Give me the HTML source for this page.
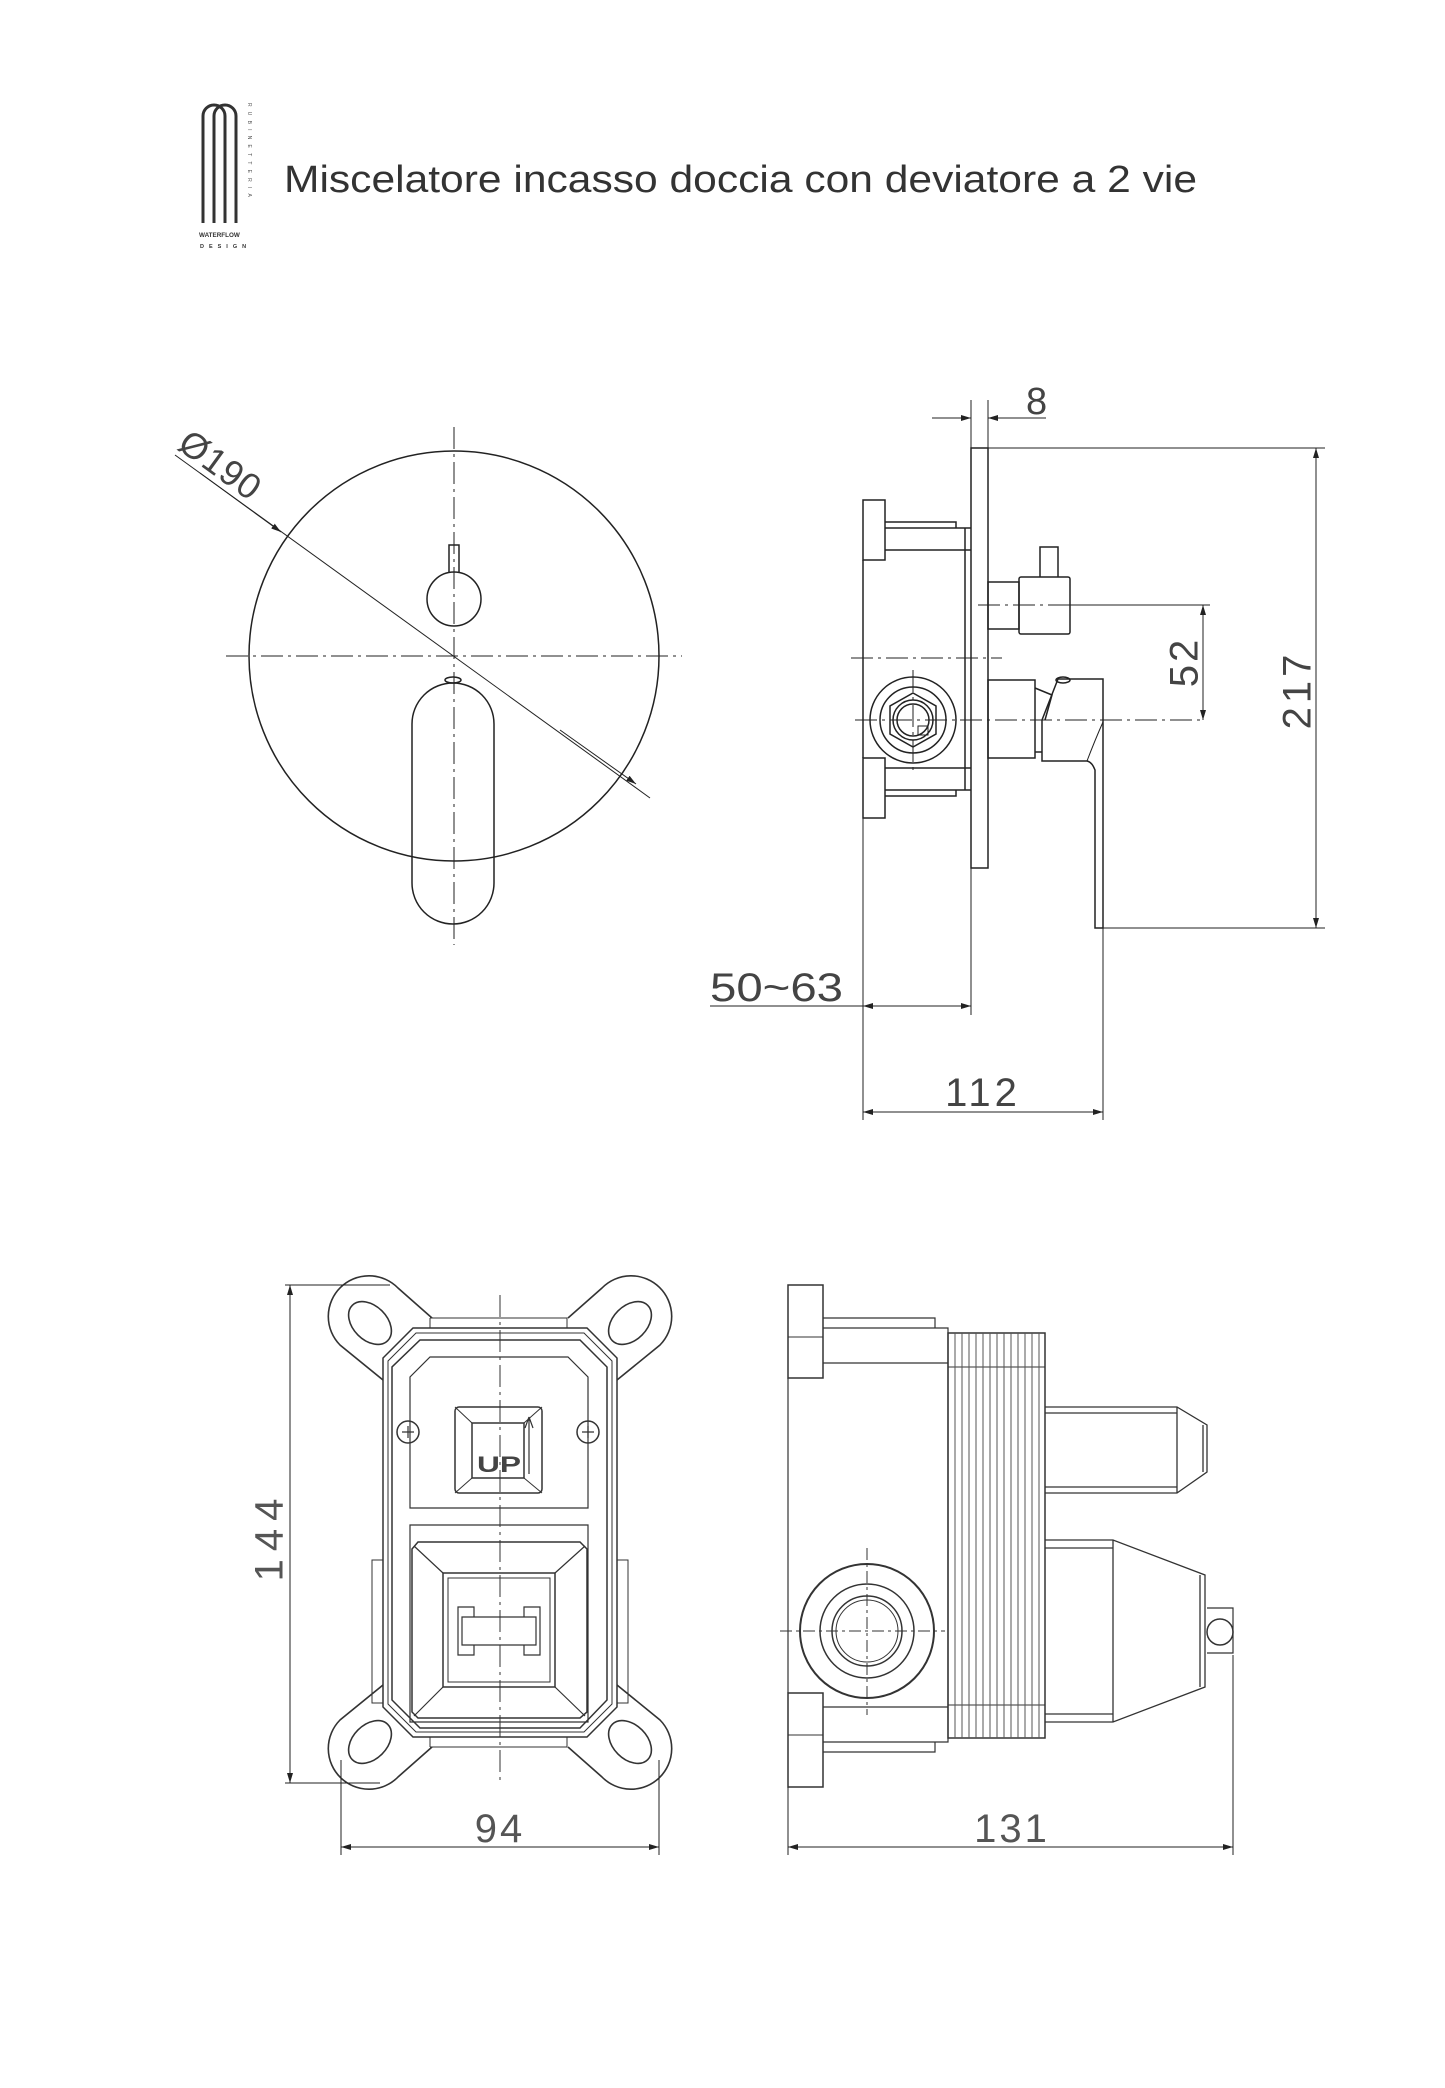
<!DOCTYPE html>
<html><head><meta charset="utf-8"><style>
html,body{margin:0;padding:0;background:#fff;}
svg{display:block;}
text{font-family:"Liberation Sans",sans-serif;}
</style></head><body>
<svg width="1445" height="2088" viewBox="0 0 1445 2088" xmlns="http://www.w3.org/2000/svg">
<defs>
<marker id="ar" viewBox="0 0 10 6" refX="10" refY="3" markerWidth="10" markerHeight="6" orient="auto-start-reverse" markerUnits="userSpaceOnUse"><path d="M0,0 L10,3 L0,6 z" fill="#222"/></marker>
<g id="ear">
<path d="M383 1380 L340 1345 A40 40 0 1 1 398 1288 L432 1318" fill="none" stroke="#333" stroke-width="1.6"/>
<ellipse cx="370" cy="1323" rx="17" ry="25" transform="rotate(-45 370 1323)" fill="none" stroke="#333" stroke-width="1.6"/>
</g>
</defs>
<rect width="1445" height="2088" fill="#fff"/>

<!-- logo -->
<g fill="none" stroke="#333" stroke-width="3">
<path d="M203 223 V116 A11 11 0 0 1 225 116 V223"/>
<path d="M214 223 V116 A11 11 0 0 1 236 116 V223"/>
</g>
<text x="248" y="103" font-size="5" fill="#555" transform="rotate(90 248 103)" letter-spacing="5.2">RUBINETTERIA</text>
<text x="199" y="237" font-size="6.3" font-weight="bold" fill="#333">WATERFLOW</text>
<text x="200" y="248" font-size="5.5" font-weight="bold" fill="#333" letter-spacing="5">DESIGN</text>
<text x="284" y="192" font-size="38" fill="#333" textLength="913" lengthAdjust="spacingAndGlyphs">Miscelatore incasso doccia con deviatore a 2 vie</text>

<g fill="none" stroke="#222" stroke-width="1.5">
<!-- top front view -->
<circle cx="454" cy="656" r="205"/>
<path d="M454 427 V945 M226 656 H682" stroke-dasharray="22 5 3 5" stroke-width="1"/>
<circle cx="454" cy="599" r="27"/>
<path d="M449 572 V545 H459 V572"/>
<rect x="412" y="683" width="82" height="241" rx="41"/>
<ellipse cx="453" cy="680" rx="8" ry="3"/>
<line x1="175" y1="455" x2="650" y2="798" stroke-width="1"/>
<line x1="200" y1="473" x2="281" y2="532" marker-end="url(#ar)" stroke-width="1"/>
<line x1="560" y1="730" x2="636" y2="784" marker-end="url(#ar)" stroke-width="1"/>

<!-- top side view -->
<rect x="971" y="448" width="17" height="420"/>
<rect x="863" y="500" width="22" height="60"/>
<rect x="863" y="758" width="22" height="60"/>
<path d="M863 560 V758 M885 528 H965 V790 H885 M885 522 H956 V528 M885 796 H956 V790 M885 550 H965 M885 768 H965 M965 528 H971 M965 550 H971 M965 768 H971 M965 790 H971"/>
<circle cx="913" cy="720" r="43"/>
<circle cx="913" cy="720" r="33"/>
<polygon points="913,693 936,706 936,734 913,747 890,734 890,706"/>
<circle cx="913" cy="720" r="20"/>
<circle cx="913" cy="720" r="16"/>
<path d="M918 726 H928 V735 H918 Z" stroke-width="1"/>
<path d="M855 720 H1204 M851 658 H1002 M978 605 H1210 M913 670 V770" stroke-dasharray="22 5 3 5" stroke-width="1"/>
<rect x="988" y="582" width="31" height="47"/>
<rect x="1019" y="577" width="51" height="57" rx="2"/>
<path d="M1040 577 V547 H1058 V577"/>
<rect x="988" y="680" width="47" height="78"/>
<path d="M1035 688 L1052 695 L1045 720 M1035 752 H1042"/>
<path d="M1042 761 V720 L1058 679 H1103 V928 H1095 V770 Q1092 762 1087 761 Z"/>
<path d="M1087 761 Q1095 740 1103 722" stroke-width="1"/>
<ellipse cx="1063" cy="680" rx="7" ry="3"/>
</g>

<!-- top dimensions -->
<g fill="none" stroke="#222" stroke-width="1">
<path d="M971 400 V448 M988 400 V448"/>
<line x1="932" y1="418" x2="971" y2="418" marker-end="url(#ar)"/>
<line x1="1046" y1="418" x2="988" y2="418" marker-end="url(#ar)"/>
<path d="M988 448 H1325 M1103 928 H1325 M1070 605 H1210"/>
<line x1="1316" y1="448" x2="1316" y2="928" marker-start="url(#ar)" marker-end="url(#ar)"/>
<line x1="1203" y1="605" x2="1203" y2="720" marker-start="url(#ar)" marker-end="url(#ar)"/>
<path d="M863 818 V1120 M971 868 V1015 M1103 928 V1120"/>
<line x1="710" y1="1006" x2="863" y2="1006"/>
<line x1="863" y1="1006" x2="971" y2="1006" marker-start="url(#ar)" marker-end="url(#ar)"/>
<line x1="863" y1="1112" x2="1103" y2="1112" marker-start="url(#ar)" marker-end="url(#ar)"/>
</g>
<g fill="#444" font-size="40">
<text x="1026" y="414" font-size="38">8</text>
<text x="1300" y="690" text-anchor="middle" transform="rotate(-90 1300 690)" dominant-baseline="middle" letter-spacing="4">217</text>
<text x="1187" y="662" text-anchor="middle" transform="rotate(-90 1187 662)" dominant-baseline="middle" letter-spacing="3">52</text>
<text x="710" y="1001" textLength="133" lengthAdjust="spacingAndGlyphs">50~63</text>
<text x="983" y="1106" text-anchor="middle" letter-spacing="4">112</text>
<text x="176" y="448" font-size="36" transform="rotate(36 176 448)" letter-spacing="1">Ø190</text>
</g>

<!-- bottom front view -->
<g fill="none" stroke="#333" stroke-width="1.5">
<use href="#ear"/>
<use href="#ear" transform="translate(1000 0) scale(-1 1)"/>
<use href="#ear" transform="translate(0 3065) scale(1 -1)"/>
<use href="#ear" transform="translate(1000 3065) scale(-1 -1)"/>
<path d="M413 1328 H587 L617 1358 V1707 L587 1737 H413 L383 1707 V1358 Z"/>
<path d="M416 1333 H584 L612 1361 V1704 L584 1732 H416 L388 1704 V1361 Z" stroke-width="1"/>
<path d="M420 1340 H580 L607 1367 V1700 L580 1728 H420 L392 1700 V1367 Z"/>
<path d="M430 1318 H567 V1328 M430 1318 V1328 M430 1747 H567 V1737 M430 1747 V1737" stroke-width="1"/>
<path d="M383 1560 H372 V1703 H383 M617 1560 H628 V1703 H617" stroke-width="1"/>
<path d="M430 1357 H568 L588 1377 V1508 H410 V1377 Z" stroke-width="1.2"/>
<rect x="455" y="1407" width="87" height="86" rx="4"/>
<rect x="472" y="1423" width="52" height="55"/>
<path d="M455 1407 L472 1423 M542 1407 L524 1423 M455 1493 L472 1478 M542 1493 L524 1478" stroke-width="1"/>
<circle cx="408" cy="1432" r="11"/>
<circle cx="588" cy="1432" r="11"/>
<path d="M402 1432 H414 M408 1426 V1438 M582 1432 H594 M588 1426 V1438" stroke-width="1.2"/>
<path d="M410 1525 H588 V1722 H410 Z" stroke-width="1.2"/>
<path d="M418 1542 H580 L587 1549 V1712 L580 1718 H418 L412 1712 V1549 Z"/>
<rect x="443" y="1573" width="112" height="114"/>
<rect x="448" y="1578" width="102" height="104" stroke-width="1"/>
<path d="M414 1546 L443 1573 M585 1546 L555 1573 M414 1716 L443 1687 M585 1716 L555 1687" stroke-width="1.2"/>
<path d="M458 1607 H474 V1617 H462 V1645 H474 V1655 H458 Z M540 1607 H524 V1617 H536 V1645 H524 V1655 H540 Z M474 1617 H524 M474 1645 H524" stroke-width="1.2"/>
<path d="M500 1295 V1780" stroke-dasharray="22 5 3 5" stroke-width="1"/>
<path d="M529 1417 V1474 M529 1417 L525 1428 M529 1417 L533 1428" stroke-width="1.2"/>
</g>
<text x="477" y="1472" font-size="22" font-weight="bold" fill="#444" textLength="44" lengthAdjust="spacingAndGlyphs">UP</text>

<!-- bottom side view -->
<g fill="none" stroke="#333" stroke-width="1.5">
<rect x="788" y="1285" width="35" height="93"/>
<rect x="788" y="1693" width="35" height="94"/>
<path d="M788 1337 H823 M788 1735 H823" stroke-width="1"/>
<path d="M788 1378 V1693 M823 1318 H935 V1328 M823 1328 H948 V1742 H823 M823 1363 H948 M823 1707 H948 M823 1752 H935 V1742" stroke-width="1.2"/>
<rect x="948" y="1333" width="97" height="405"/>
<path d="M948 1367 H1045 M948 1705 H1045" stroke-width="1"/>
<path d="M955 1333V1738M962 1333V1738M969 1333V1738M976 1333V1738M983 1333V1738M990 1333V1738M997 1333V1738M1004 1333V1738M1011 1333V1738M1018 1333V1738M1025 1333V1738M1032 1333V1738M1039 1333V1738" stroke-width="1" stroke="#555"/>
<path d="M1045 1407 H1177 L1207 1425 V1472 L1177 1493 H1045 M1045 1413 H1177 M1045 1487 H1177 M1177 1407 V1493 M1203 1425 V1472" stroke-width="1.3"/>
<path d="M1045 1540 H1113 L1205 1575 V1687 L1113 1722 H1045 M1045 1548 H1113 M1045 1714 H1113 M1113 1540 V1722 M1200 1575 V1687" stroke-width="1.3"/>
<path d="M1207 1608 H1233 V1653 H1207" stroke-width="1.2"/>
<circle cx="1220" cy="1632" r="13"/>
<circle cx="867" cy="1631" r="67" stroke-width="2"/>
<circle cx="867" cy="1631" r="47"/>
<circle cx="867" cy="1631" r="35"/>
<circle cx="867" cy="1631" r="31" stroke-width="1"/>
<path d="M780 1631 H945 M867 1548 V1715" stroke-dasharray="12 4 3 4" stroke-width="1"/>
</g>

<!-- bottom dimensions -->
<g fill="none" stroke="#222" stroke-width="1">
<path d="M285 1285 H390 M285 1783 H380"/>
<line x1="290" y1="1285" x2="290" y2="1783" marker-start="url(#ar)" marker-end="url(#ar)"/>
<path d="M341 1760 V1855 M659 1760 V1855 M788 1787 V1855 M1233 1655 V1855"/>
<line x1="341" y1="1847" x2="659" y2="1847" marker-start="url(#ar)" marker-end="url(#ar)"/>
<line x1="788" y1="1847" x2="1233" y2="1847" marker-start="url(#ar)" marker-end="url(#ar)"/>
</g>
<g fill="#555" font-size="40">
<text x="272" y="1536" text-anchor="middle" transform="rotate(-90 272 1536)" dominant-baseline="middle" letter-spacing="8">144</text>
<text x="500" y="1842" text-anchor="middle" letter-spacing="3">94</text>
<text x="1012" y="1842" text-anchor="middle" letter-spacing="3">131</text>
</g>
</svg>
</body></html>
